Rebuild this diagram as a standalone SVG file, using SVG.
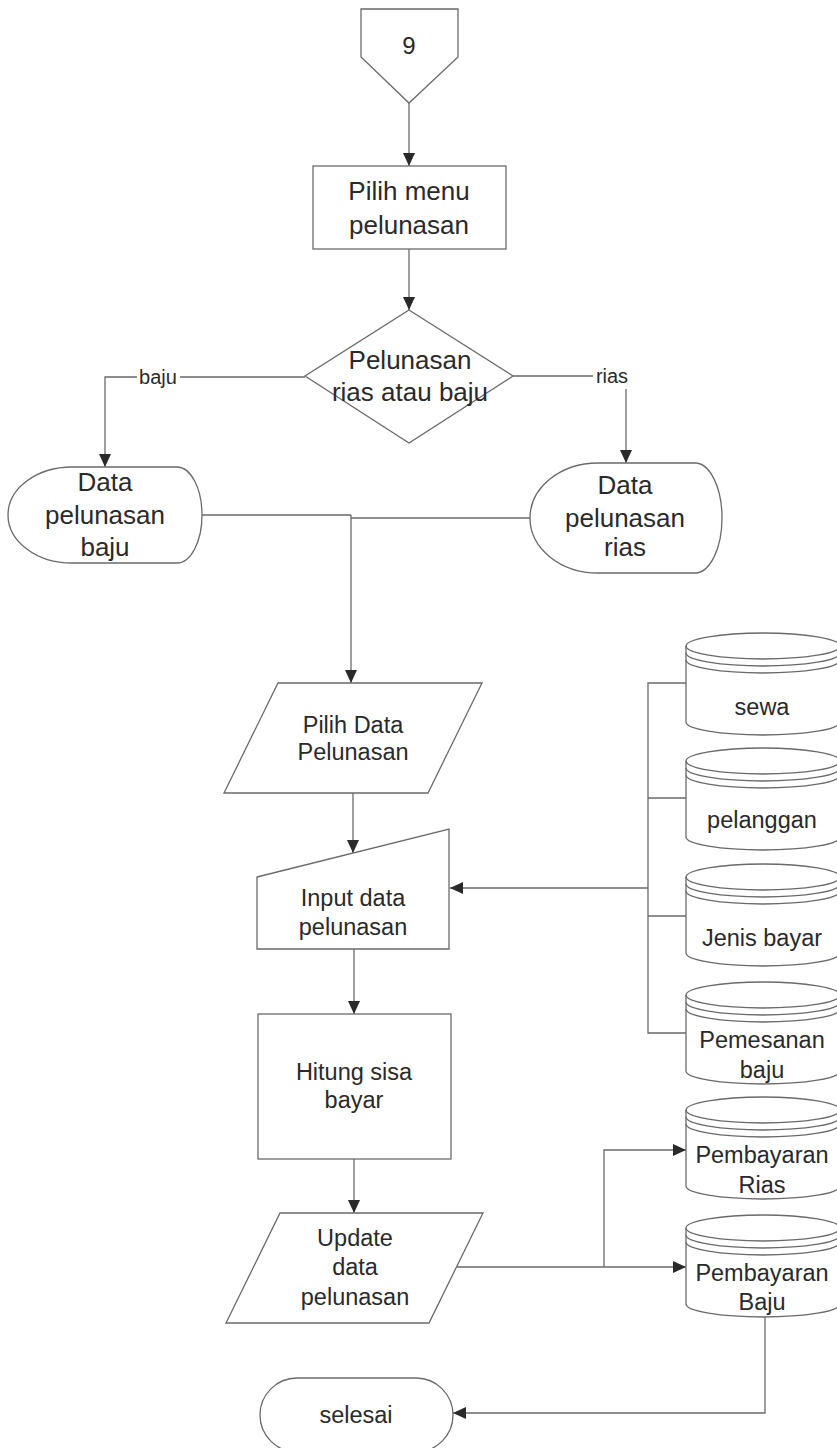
<svg xmlns="http://www.w3.org/2000/svg" width="837" height="1448" viewBox="0 0 837 1448">
<style>
.s{fill:#fff;stroke:#6a6a6a;stroke-width:1.3}
.c{fill:none;stroke:#6a6a6a;stroke-width:1.3}
.t{font-family:"Liberation Sans",Arial,sans-serif;font-size:23.5px;fill:#2a2a2a;text-anchor:middle}
.tl{font-size:26px}
.lb{font-family:"Liberation Sans",Arial,sans-serif;font-size:20px;fill:#2a2a2a;text-anchor:middle}
</style>
<defs>
<marker id="ah" markerUnits="userSpaceOnUse" markerWidth="14" markerHeight="12" refX="13" refY="6" orient="auto">
<path d="M0,0 L13,6 L0,12 Z" fill="#2a2a2a"/>
</marker>
<g id="cylShape">
<path class="s" d="M0,13 A77,13 0 0 1 154,13 L154,89 A77,13 0 0 1 0,89 Z"/>
<path class="c" d="M0,13 A77,13 0 0 0 154,13 M0,20 A77,13 0 0 0 154,20 M0,27 A77,13 0 0 0 154,27"/>
</g>
</defs>

<g id="connectors">
<path class="c" d="M409,103 L409,166" marker-end="url(#ah)"/>
<path class="c" d="M409,249 L409,310" marker-end="url(#ah)"/>
<path class="c" d="M305,377 L105,377 L105,467" marker-end="url(#ah)"/>
<path class="c" d="M513,376 L626,376 L626,463" marker-end="url(#ah)"/>
<path class="c" d="M202,515 L351,515 M530,518 L351,518"/>
<path class="c" d="M351,515 L351,683" marker-end="url(#ah)"/>
<path class="c" d="M353,793 L353,853" marker-end="url(#ah)"/>
<path class="c" d="M354,949 L354,1014" marker-end="url(#ah)"/>
<path class="c" d="M354,1159 L354,1213" marker-end="url(#ah)"/>
<path class="c" d="M686,683 L648,683 L648,1033 L686,1033 M648,798 L686,798 M648,916 L686,916"/>
<path class="c" d="M648,888 L450,888" marker-end="url(#ah)"/>
<path class="c" d="M457,1267 L686,1267" marker-end="url(#ah)"/>
<path class="c" d="M604,1267 L604,1150 L686,1150" marker-end="url(#ah)"/>
<path class="c" d="M765,1317 L765,1413 L453,1413" marker-end="url(#ah)"/>
<rect x="137" y="366" width="43" height="24" fill="#fff"/>
<text class="lb" x="158" y="384">baju</text>
<rect x="593" y="364" width="37" height="25" fill="#fff"/>
<text class="lb" x="612" y="383">rias</text>
</g>

<g id="n-offpage">
<path class="s" d="M361,9 L458,9 L458,57 L409,103 L361,57 Z"/>
<text class="t" x="409" y="54" style="font-size:24px">9</text>
</g>

<g id="n-pilihmenu">
<rect class="s" x="313" y="166" width="193" height="83"/>
<text class="t tl" x="409" y="200">Pilih menu</text>
<text class="t tl" x="409" y="234">pelunasan</text>
</g>

<g id="n-decision">
<path class="s" d="M409,310 L513,376 L409,443 L305,376 Z"/>
<text class="t tl" x="410" y="369">Pelunasan</text>
<text class="t tl" x="410" y="401">rias atau baju</text>
</g>

<g id="n-databaju">
<path class="s" d="M72,467 L177,467 A25,48 0 0 1 202,515 A25,48 0 0 1 177,563 L72,563 A64,48 0 0 1 8,515 A64,48 0 0 1 72,467 Z"/>
<text class="t tl" x="105" y="491">Data</text>
<text class="t tl" x="105" y="524">pelunasan</text>
<text class="t tl" x="105" y="556">baju</text>
</g>

<g id="n-datarias">
<path class="s" d="M598,463 L695,463 A27,55 0 0 1 722,518 A27,55 0 0 1 695,573 L598,573 A68,55 0 0 1 530,518 A68,55 0 0 1 598,463 Z"/>
<text class="t tl" x="625" y="494">Data</text>
<text class="t tl" x="625" y="527">pelunasan</text>
<text class="t tl" x="625" y="556">rias</text>
</g>

<g id="n-pilihdata">
<path class="s" d="M278,683 L482,683 L428,793 L224,793 Z"/>
<text class="t" x="353" y="733">Pilih Data</text>
<text class="t" x="353" y="760">Pelunasan</text>
</g>

<g id="n-input">
<path class="s" d="M257,877 L449,829 L449,949 L257,949 Z"/>
<text class="t" x="353" y="906">Input data</text>
<text class="t" x="353" y="935">pelunasan</text>
</g>

<g id="n-hitung">
<rect class="s" x="258" y="1014" width="193" height="145"/>
<text class="t" x="354" y="1080">Hitung sisa</text>
<text class="t" x="354" y="1108">bayar</text>
</g>

<g id="n-update">
<path class="s" d="M280,1213 L483,1213 L429,1323 L226,1323 Z"/>
<text class="t" x="355" y="1246">Update</text>
<text class="t" x="355" y="1275">data</text>
<text class="t" x="355" y="1305">pelunasan</text>
</g>

<g id="n-selesai">
<rect class="s" x="260" y="1378" width="193" height="74" rx="37" ry="37"/>
<text class="t" x="356" y="1423">selesai</text>
</g>

<g id="n-sewa">
<use href="#cylShape" x="686" y="633"/>
<text class="t" x="762" y="715">sewa</text>
</g>
<g id="n-pelanggan">
<use href="#cylShape" x="686" y="748"/>
<text class="t" x="762" y="828">pelanggan</text>
</g>
<g id="n-jenisbayar">
<use href="#cylShape" x="686" y="864"/>
<text class="t" x="762" y="946">Jenis bayar</text>
</g>
<g id="n-pemesanan">
<use href="#cylShape" x="686" y="982"/>
<text class="t" x="762" y="1048">Pemesanan</text>
<text class="t" x="762" y="1078">baju</text>
</g>
<g id="n-bayarrias">
<use href="#cylShape" x="686" y="1097"/>
<text class="t" x="762" y="1163">Pembayaran</text>
<text class="t" x="762" y="1193">Rias</text>
</g>
<g id="n-bayarbaju">
<use href="#cylShape" x="686" y="1215"/>
<text class="t" x="762" y="1281">Pembayaran</text>
<text class="t" x="762" y="1310">Baju</text>
</g>
</svg>
